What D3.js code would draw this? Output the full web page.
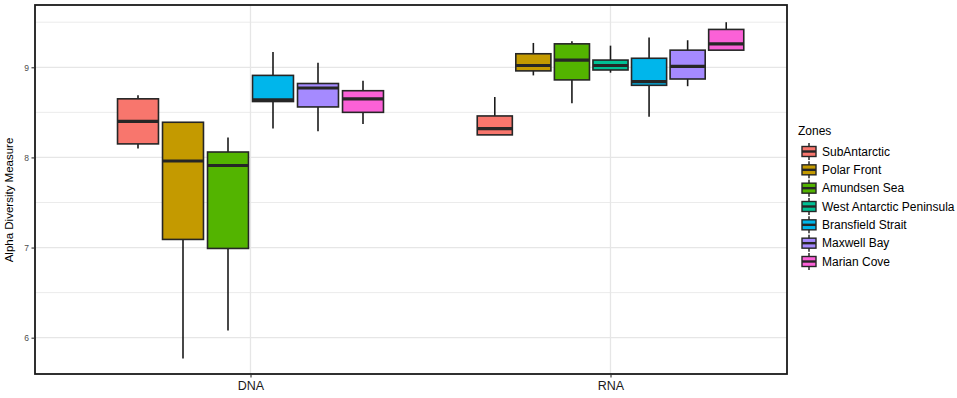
<!DOCTYPE html>
<html>
<head>
<meta charset="utf-8">
<script src="https://cdn.jsdelivr.net/npm/d3@7"></script>
<style>
  body { margin: 0; background: #fff; }
  svg { font-family: "Liberation Sans", Arial, Helvetica, sans-serif; }
</style>
</head>
<body>
<svg id="chart" width="957" height="398"></svg>
<script>
// groups on the x axis and the zones (fill legend)
const groups = ["DNA", "RNA"];
const zones = ["SubAntarctic", "Polar Front", "Amundsen Sea", "West Antarctic Peninsula",
               "Bransfield Strait", "Maxwell Bay", "Marian Cove"];
const zoneColors = ["#F8766D", "#C49A00", "#53B400", "#00C094", "#00B6EB", "#A58AFF", "#FB61D7"];

// [lower whisker, Q1, median, Q3, upper whisker] per zone, null = zone not sampled
const dnaBoxes = [
    [8.10, 8.15, 8.40, 8.65, 8.69],
    [5.77, 7.09, 7.96, 8.39, 8.39],
    [6.08, 6.99, 7.91, 8.06, 8.22],
    null,
    [8.32, 8.62, 8.64, 8.91, 9.17],
    [8.29, 8.56, 8.77, 8.82, 9.05],
    [8.37, 8.50, 8.65, 8.74, 8.85]
];
const rnaBoxes = [
    [8.25, 8.25, 8.32, 8.46, 8.67],
    [8.91, 8.96, 9.02, 9.15, 9.27],
    [8.60, 8.86, 9.08, 9.26, 9.29],
    [8.94, 8.97, 9.02, 9.08, 9.24],
    [8.45, 8.80, 8.84, 9.10, 9.33],
    [8.79, 8.87, 9.01, 9.19, 9.30],
    [9.19, 9.19, 9.26, 9.42, 9.50]
];
const yTicks = [6, 7, 8, 9];
const yMinor = [6.5, 7.5, 8.5, 9.5];

function createBoxplot() {
    let svg = d3.select("#chart");

    // panel edges
    let left = 35, right = 787, top = 5, bottom = 374;

    let yScale = d3.scaleLinear()
        .domain([5.597, 9.691])
        .range([bottom, top]);

    let xScale = d3.scalePoint()
        .domain(groups)
        .range([250.5, 610.5]);

    let dodgeWidth = 270;
    let color = d3.scaleOrdinal().domain(zones).range(zoneColors);

    // grid
    let grid = svg.append("g");
    grid.selectAll(".minor")
        .data(yMinor)
        .enter()
        .append("line")
        .attr("x1", left).attr("x2", right)
        .attr("y1", d => yScale(d)).attr("y2", d => yScale(d))
        .attr("stroke", "#ebebeb")
        .attr("stroke-width", 1);
    grid.selectAll(".major")
        .data(yTicks)
        .enter()
        .append("line")
        .attr("x1", left).attr("x2", right)
        .attr("y1", d => yScale(d)).attr("y2", d => yScale(d))
        .attr("stroke", "#e6e6e6")
        .attr("stroke-width", 1.3);
    grid.selectAll(".vmajor")
        .data(groups)
        .enter()
        .append("line")
        .attr("x1", d => xScale(d)).attr("x2", d => xScale(d))
        .attr("y1", top).attr("y2", bottom)
        .attr("stroke", "#e6e6e6")
        .attr("stroke-width", 1.3);

    // boxes per group
    let boxData = { DNA: dnaBoxes, RNA: rnaBoxes };
    groups.forEach(g => {
        let rows = zones
            .map((z, i) => ({ zone: z, stats: boxData[g][i] }))
            .filter(d => d.stats !== null);

        let dodge = d3.scaleBand()
            .domain(rows.map(d => d.zone))
            .range([xScale(g) - dodgeWidth / 2, xScale(g) + dodgeWidth / 2])
            .paddingInner(0.09)
            .paddingOuter(0.045);

        let box = svg.append("g")
            .selectAll("g")
            .data(rows)
            .enter()
            .append("g");

        let cx = d => dodge(d.zone) + dodge.bandwidth() / 2;

        // whiskers
        box.append("line")
            .attr("x1", cx).attr("x2", cx)
            .attr("y1", d => yScale(d.stats[0]))
            .attr("y2", d => yScale(d.stats[1]))
            .attr("stroke", "#1a1a1a")
            .attr("stroke-width", 1.6);
        box.append("line")
            .attr("x1", cx).attr("x2", cx)
            .attr("y1", d => yScale(d.stats[3]))
            .attr("y2", d => yScale(d.stats[4]))
            .attr("stroke", "#1a1a1a")
            .attr("stroke-width", 1.6);

        // box
        box.append("rect")
            .attr("x", d => dodge(d.zone))
            .attr("y", d => yScale(d.stats[3]))
            .attr("width", dodge.bandwidth())
            .attr("height", d => yScale(d.stats[1]) - yScale(d.stats[3]))
            .attr("fill", d => color(d.zone))
            .attr("stroke", "#262626")
            .attr("stroke-width", 1.6);

        // median
        box.append("line")
            .attr("x1", d => dodge(d.zone))
            .attr("x2", d => dodge(d.zone) + dodge.bandwidth())
            .attr("y1", d => yScale(d.stats[2]))
            .attr("y2", d => yScale(d.stats[2]))
            .attr("stroke", "#262626")
            .attr("stroke-width", 3.2);
    });

    // panel border
    svg.append("rect")
        .attr("x", left).attr("y", top)
        .attr("width", right - left).attr("height", bottom - top)
        .attr("fill", "none")
        .attr("stroke", "#1a1a1a")
        .attr("stroke-width", 1.8);

    // y axis
    let yAxis = d3.axisLeft(yScale)
        .tickValues(yTicks)
        .tickFormat(d3.format("d"))
        .tickSize(3.5)
        .tickPadding(2.5);
    let yAxisGroup = svg.append("g")
        .attr("transform", `translate(${left},0)`)
        .call(yAxis);
    yAxisGroup.select(".domain").remove();
    yAxisGroup.selectAll("line").attr("stroke", "#333").attr("stroke-width", 1.1);
    yAxisGroup.selectAll("text")
        .attr("fill", "#4d4d4d")
        .attr("font-size", "8.5px")
        .attr("font-family", "'Liberation Sans', Arial, sans-serif");

    // x axis
    let xAxis = d3.axisBottom(xScale)
        .tickSize(3.5)
        .tickPadding(4);
    let xAxisGroup = svg.append("g")
        .attr("transform", `translate(0,${bottom})`)
        .call(xAxis);
    xAxisGroup.select(".domain").remove();
    xAxisGroup.selectAll("line").attr("stroke", "#333").attr("stroke-width", 1.1);
    xAxisGroup.selectAll("text")
        .attr("fill", "#1a1a1a")
        .attr("font-size", "12.5px")
        .attr("font-family", "'Liberation Sans', Arial, sans-serif");

    // y axis title
    svg.append("text")
        .attr("transform", "translate(13,200) rotate(-90)")
        .attr("text-anchor", "middle")
        .attr("font-size", "11.5px")
        .attr("fill", "#000")
        .text("Alpha Diversity Measure");

    // legend
    let legend = svg.append("g");
    legend.append("text")
        .attr("x", 798)
        .attr("y", 135)
        .attr("font-size", "12px")
        .attr("fill", "#000")
        .text("Zones");

    let keyY = d3.scalePoint()
        .domain(zones)
        .range([151.5, 261.5]);

    let key = legend.selectAll(".key")
        .data(zones)
        .enter()
        .append("g")
        .attr("transform", d => `translate(0,${keyY(d)})`);

    key.append("line")
        .attr("x1", 809).attr("x2", 809)
        .attr("y1", -8.5).attr("y2", 8.5)
        .attr("stroke", "#1a1a1a")
        .attr("stroke-width", 1.4);
    key.append("rect")
        .attr("x", 802).attr("y", -5)
        .attr("width", 14).attr("height", 10)
        .attr("fill", d => color(d))
        .attr("stroke", "#262626")
        .attr("stroke-width", 1.4);
    key.append("line")
        .attr("x1", 802).attr("x2", 816)
        .attr("y1", 0).attr("y2", 0)
        .attr("stroke", "#262626")
        .attr("stroke-width", 2.4);
    key.append("text")
        .attr("x", 822)
        .attr("y", 4.2)
        .attr("font-size", "12px")
        .attr("fill", "#000")
        .text(d => d);
}

window.onload = function() {
    createBoxplot();
}
</script>
</body>
</html>
